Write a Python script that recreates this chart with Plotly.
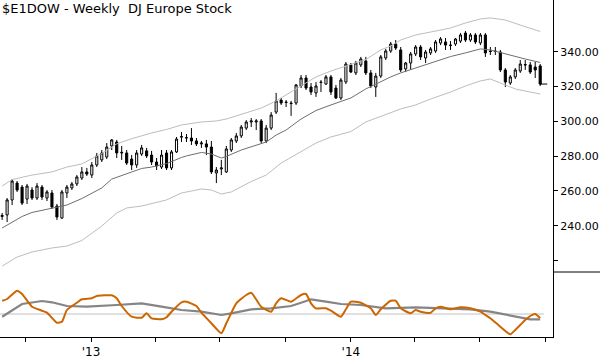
import pandas as pd
import plotly.graph_objects as go

# ---------------- data ----------------
week_start = "2012-08-29"
n_weeks = 109

opens = [245.3,246.2,254.8,264.5,262.2,255.3,260.5,255.9,262.2,255.9,
         258.8,251.3,244.4,258.8,261.7,264.0,267.4,270.9,269.1,274.9,
         277.8,279.5,285.8,288.1,282.2,281.8,278.3,274.9,281.2,283.0,
         280.6,276.6,273.7,281.8,273.2,282.4,290.9,290.4,290.4,288.7,
         287.0,287.0,285.2,270.3,272.6,270.9,283.5,288.7,291.6,296.1,
         299.6,299.6,300.2,288.7,296.1,305.3,312.2,311.1,310.5,310.5,
         320.3,324.9,319.7,316.3,322.6,321.4,325.5,319.1,313.4,322.6,
         332.4,327.8,332.4,334.7,327.8,319.7,326.0,336.4,340.4,344.4,
         341.0,330.1,333.5,338.7,342.7,336.4,339.3,340.4,345.0,345.6,
         343.8,344.4,346.1,350.7,346.7,349.6,345.0,349.6,340.4,340.4,
         339.8,329.5,322.0,325.5,328.9,332.6,332.4,331.2,331.8]
highs = [247.3,255.9,266.8,265.7,263.4,264.0,262.2,264.5,263.4,260.5,
         260.5,252.5,260.5,263.4,265.1,269.1,273.7,273.2,276.6,281.8,
         283.5,287.5,289.8,289.3,285.8,283.5,280.6,283.5,286.4,284.7,
         283.0,278.9,283.5,283.5,283.5,291.0,293.8,292.7,296.1,290.4,
         288.7,289.3,288.7,273.7,277.8,285.8,290.4,293.3,297.9,300.7,
         301.9,301.3,301.3,297.9,305.3,316.3,313.4,312.2,311.7,321.4,
         326.6,326.6,322.0,322.6,323.7,326.6,326.6,320.9,324.9,334.1,
         333.5,334.7,337.0,337.0,329.5,327.8,338.1,341.6,345.6,346.7,
         342.7,334.1,339.8,343.8,343.8,341.0,342.7,346.7,348.4,347.9,
         346.1,347.9,350.7,351.9,350.7,350.7,350.7,350.7,342.7,342.7,
         341.0,330.6,326.6,330.6,335.2,335.2,334.1,334.1,332.9]
lows = [243.3,242.1,251.9,259.4,251.9,252.5,254.8,254.8,254.8,254.2,
        249.6,243.3,243.9,255.9,260.5,262.8,266.3,268.6,267.4,273.7,
        276.6,278.3,283.5,278.9,277.8,274.9,272.0,273.2,280.1,278.9,
        274.9,272.0,272.6,272.0,272.0,281.8,288.1,288.1,286.4,285.8,
        284.7,280.6,269.7,264.5,269.1,270.3,282.4,287.5,290.4,295.0,
        296.7,295.0,287.5,287.5,295.0,304.2,309.4,308.2,303.1,309.4,
        319.1,318.0,315.1,314.0,316.8,320.9,315.1,312.8,312.2,321.4,
        327.8,326.6,331.2,326.6,319.1,314.0,324.9,335.2,339.3,341.0,
        328.3,328.3,329.5,337.5,335.2,333.5,338.1,339.3,343.8,341.0,
        341.0,343.3,345.0,345.6,345.6,344.4,343.8,337.0,338.1,338.1,
        328.3,319.7,320.9,324.3,327.8,329.5,327.2,324.9,320.3]
closes = [245.9,254.8,265.7,260.5,253.0,262.8,255.9,262.8,256.5,259.4,
          250.7,245.0,259.4,262.2,264.0,268.0,270.9,269.7,274.9,280.1,
          281.8,285.2,289.3,281.8,281.9,276.0,274.9,281.8,284.7,280.1,
          276.6,274.3,280.6,273.2,282.4,289.8,291.2,290.6,288.7,287.0,
          287.5,285.2,270.9,272.0,273.2,284.1,289.3,291.6,296.7,299.6,
          300.2,300.2,288.7,296.1,303.6,311.7,310.5,310.8,310.2,320.9,
          324.9,319.1,316.8,320.3,322.3,325.5,316.8,313.4,323.7,332.9,
          328.3,333.5,335.8,327.8,320.3,326.0,337.0,340.4,344.4,342.1,
          329.5,333.5,338.7,342.7,337.0,339.8,341.6,345.6,347.3,343.8,
          343.6,347.3,349.6,346.7,349.6,345.6,349.6,339.3,340.1,340.1,
          329.5,322.6,325.5,329.5,332.9,332.4,328.3,329.5,321.4]

# channel lines: (week index, value)
mid_k = [0,4,6,10,13,16,20,22,26,28,30,33,36,37,40,42,44,45,48,51,53,55,57,60,63,66,70,73,75,78,80,83,86,90,93,96,98,100,102,105,108]
mid_v = [238.7,245.3,247.6,250.2,251.9,255.6,261.7,266.8,271.1,272.9,273.7,275.7,279.2,280.1,282.1,281.2,278.9,279.8,283.5,286.4,288.1,292.1,295.0,301.3,306.2,309.4,313.4,318.6,321.4,325.5,327.8,330.6,333.5,337.2,339.3,341.6,341.0,339.5,337.8,335.8,333.8]
up_k = [0,2,6,10,13,16,20,23,26,30,33,36,40,43,45,49,52,55,60,63,66,69,73,76,78,80,82,83,86,90,93,96,98,101,104,108]
up_v = [262.8,266.5,269.1,270.9,273.7,275.5,281.5,287.0,290.0,293.3,295.3,297.9,299.6,300.2,301.3,305.1,307.6,311.7,320.3,325.5,328.9,331.8,335.5,341.0,343.3,346.7,348.4,349.6,351.3,353.6,356.5,358.8,359.4,358.2,355.3,351.6]
lo_k = [0,3,6,10,13,16,20,23,25,28,33,36,40,42,44,46,50,53,56,60,63,66,70,73,76,80,83,86,90,93,96,98,100,103,106,108]
lo_v = [216.8,222.0,224.9,227.2,228.3,231.5,239.8,247.3,250.2,251.3,254.8,258.8,261.1,260.5,258.2,259.4,265.4,269.1,276.0,282.6,287.5,291.0,294.1,299.6,303.0,307.1,309.4,312.8,316.8,320.3,323.2,324.3,322.0,318.6,316.8,315.7]

# lower-panel oscillator and its signal
osc_k = [0,1,3,4,6,8,9,11,12,13,15,16,18,19,22,23,24,26,28,29,30,32,33,34,36,37,39,40,42,44,45,47,49,50,52,54,55,56,58,60,61,62,63,65,66,68,69,70,72,74,75,76,78,79,80,82,83,84,86,87,88,90,92,94,96,97,98,100,102,103,105,106,107,108]
osc_v = [13.3,15,23.3,20,7.3,3.3,1.3,-8.7,-7.7,4,11.3,14.7,15.7,18,18.7,15.7,8,-2.7,-3.7,0.7,-4.3,-5.3,-3.3,2.3,11.7,12.3,8,1.3,-9.3,-19.3,-9.3,10.7,19,21.3,7.3,2.3,10.7,15.7,12.3,19,20,10.7,5.7,5.7,3.3,-2.7,4.7,12.3,11.3,5.7,-1,4.7,13.3,13.3,5.7,0.7,4,2.3,1.3,5.7,7.3,4.7,6.7,5.7,2.3,-1,-4.3,-12.7,-20.3,-16,-6,-2,0,-4]
sig_k = [0,2,4,8,10,13,17,23,28,32,36,40,44,46,50,54,58,60,62,65,68,72,75,77,83,90,94,98,103,106,108]
sig_v = [-2.7,4,10,13,11.7,8,7.3,9,10.7,7.3,4,2.3,-1,0.7,4.7,5.7,8,11.3,14.7,12.3,10,9,7.3,5.7,6.7,5.7,4.7,2.3,-2.7,-5.3,-5.3]

price_ticks = [220, 240, 260, 280, 300, 320, 340]
price_labels = ["", "240.00", "260.00", "280.00", "300.00", "320.00", "340.00"]
quarter_ticks = ["2012-10-01", "2013-01-01", "2013-04-01", "2013-07-01", "2013-10-01",
                 "2014-01-01", "2014-04-01", "2014-07-01", "2014-10-01"]
quarter_labels = ["", "'13", "", "", "", "'14", "", "", ""]
title_text = "$E1DOW - Weekly\u00a0 DJ Europe Stock"

# ---------------- figure ----------------
dates = pd.date_range(week_start, periods=n_weeks, freq="7D")
pick = lambda ks: [dates[k] for k in ks]

fig = go.Figure()
fig.add_trace(go.Scatter(x=pick(up_k), y=up_v, mode="lines",
                         line=dict(color="#bdbdbd", width=1), hoverinfo="skip"))
fig.add_trace(go.Scatter(x=pick(lo_k), y=lo_v, mode="lines",
                         line=dict(color="#bdbdbd", width=1), hoverinfo="skip"))
fig.add_trace(go.Scatter(x=pick(mid_k), y=mid_v, mode="lines",
                         line=dict(color="#6e6e6e", width=1), hoverinfo="skip"))
fig.add_trace(go.Candlestick(
    x=dates, open=opens, high=highs, low=lows, close=closes,
    increasing=dict(line=dict(color="black", width=1), fillcolor="white"),
    decreasing=dict(line=dict(color="black", width=1), fillcolor="black"),
    whiskerwidth=0, hoverinfo="skip"))
fig.add_trace(go.Scatter(x=[dates[-1] + pd.Timedelta(days=5)], y=[closes[-1]], mode="markers",
                         marker=dict(symbol="line-ew", size=5, line=dict(color="black", width=1)),
                         hoverinfo="skip"))

fig.add_trace(go.Scatter(x=[dates[0] - pd.Timedelta(days=3), dates[-1] + pd.Timedelta(days=5)], y=[0, 0],
                         mode="lines", line=dict(color="#c0c0c0", width=1),
                         yaxis="y2", hoverinfo="skip"))
fig.add_trace(go.Scatter(x=pick(sig_k), y=sig_v, mode="lines",
                         line=dict(color="#858585", width=2.2), yaxis="y2", hoverinfo="skip"))
fig.add_trace(go.Scatter(x=pick(osc_k), y=osc_v, mode="lines",
                         line=dict(color="#cc6600", width=2, shape="spline", smoothing=0.5),
                         yaxis="y2", hoverinfo="skip"))

split = 65 / 337
fig.update_layout(
    width=600, height=360, autosize=False,
    margin=dict(l=0, r=0, t=0, b=23),
    paper_bgcolor="white", plot_bgcolor="white",
    showlegend=False, boxgap=0.4,
    font=dict(family="DejaVu Sans", size=11, color="black"),
    xaxis=dict(type="date", range=["2012-08-26", "2014-10-12"], anchor="y2",
               domain=[0, 553 / 600], showgrid=False, zeroline=False,
               showline=True, linecolor="black", linewidth=1,
               ticks="outside", ticklen=4, tickcolor="black",
               tickvals=quarter_ticks, ticktext=quarter_labels,
               tickfont=dict(family="DejaVu Sans", size=12),
               rangeslider=dict(visible=False)),
    yaxis=dict(domain=[split, 1], range=[213.4, 369.7], side="right", anchor="x",
               showgrid=False, zeroline=False, showline=True, linecolor="black",
               linewidth=1, ticks="outside", ticklen=4, tickcolor="black",
               tickvals=price_ticks, ticktext=price_labels,
               tickfont=dict(family="DejaVu Sans", size=11)),
    yaxis2=dict(domain=[0, split], range=[-23, 42], side="right", anchor="x",
                showgrid=False, zeroline=False, showline=True, linecolor="black",
                linewidth=1, showticklabels=False, ticks=""),
    shapes=[dict(type="line", xref="paper", yref="paper", x0=553 / 600, x1=1,
                 y0=split, y1=split, line=dict(color="black", width=1))],
    annotations=[dict(text=title_text, xref="paper", yref="paper", x=0, y=1,
                      xanchor="left", yanchor="top", showarrow=False, xshift=0, yshift=1,
                      font=dict(family="DejaVu Sans", size=13, color="black"))],
)

fig.write_html("out.html", config={"displayModeBar": False},
               post_script="document.body.style.margin='0';document.body.style.overflow='hidden';")
